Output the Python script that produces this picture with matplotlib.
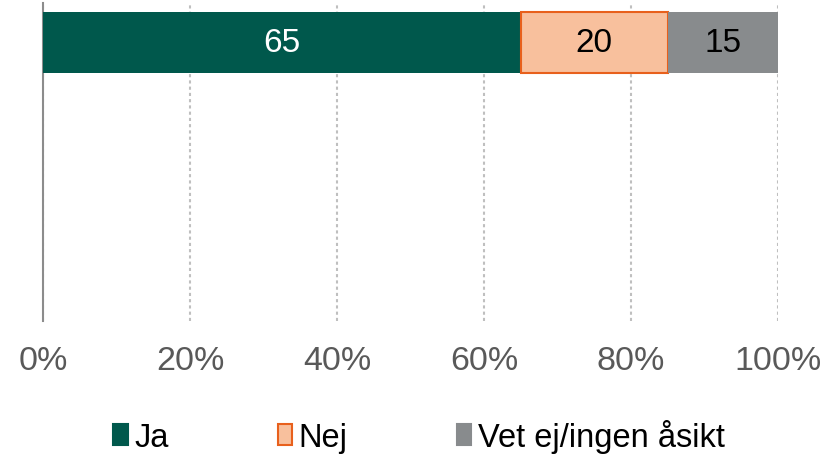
import matplotlib.pyplot as plt
from matplotlib.patches import Patch

categories = ['Ja', 'Nej', 'Vet ej/ingen åsikt']
values = [65, 20, 15]
face_colors = ['#00584C', '#F8C09D', '#888B8D']
edge_colors = ['#00584C', '#E8601C', '#888B8D']
label_colors = ['white', 'black', 'black']
ticks = [0, 20, 40, 60, 80, 100]
tick_labels = ['0%', '20%', '40%', '60%', '80%', '100%']

plt.rcParams['font.family'] = ['Liberation Sans', 'DejaVu Sans']

fig = plt.figure(figsize=(8.33, 4.56), dpi=100)
ax = fig.add_axes([0.0516, 0.2939, 0.8824, 0.6974])

left = 0
for val, fc, ec, lc in zip(values, face_colors, edge_colors, label_colors):
    ax.barh(0, val, left=left, height=0.6, color=fc, edgecolor=ec,
            linewidth=1.5 if ec != fc else 0, zorder=3)
    ax.text(left + val / 2, 0, str(val), ha='center', va='center',
            fontsize=24, color=lc, zorder=4)
    left += val

ax.set_xlim(0, 100)
ax.set_ylim(2.74, -0.389)
ax.set_xticks(ticks)
ax.set_xticklabels(tick_labels, fontsize=24.5, color='#595959')
ax.tick_params(axis='x', length=0, pad=17)
ax.set_yticks([])
ax.xaxis.grid(True, linestyle=(0, (1.5, 1.5)), color='#BFBFBF', linewidth=1.5, zorder=0)

for side in ['top', 'right', 'bottom']:
    ax.spines[side].set_visible(False)
ax.spines['left'].set_color('#8C8C8C')
ax.spines['left'].set_linewidth(1.5)

handles = [Patch(facecolor=fc, edgecolor=ec, linewidth=1.5)
           for fc, ec in zip(face_colors, edge_colors)]
fig.legend(handles, categories, loc='center', bbox_to_anchor=(0.503, 0.042),
           ncol=3, frameon=False, fontsize=23.5, handlelength=0.45,
           handleheight=0.6, handletextpad=0.2, columnspacing=3.33)

fig.savefig('out.png', dpi=100)
